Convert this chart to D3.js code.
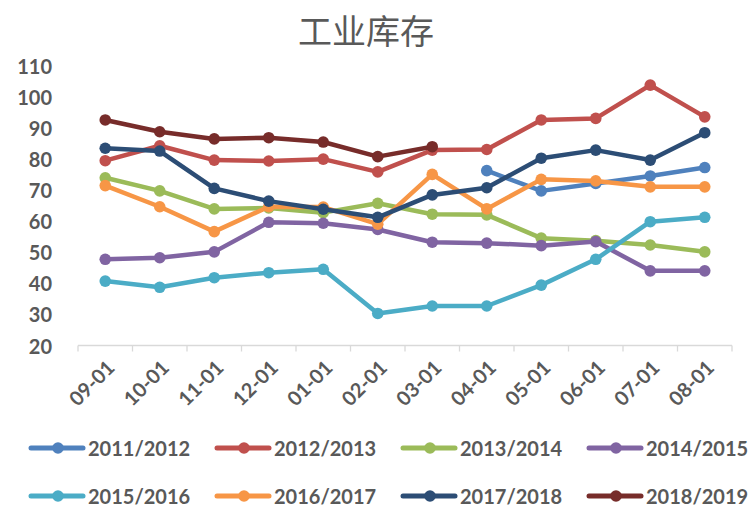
<!DOCTYPE html>
<html>
<head>
<meta charset="utf-8">
<script src="https://cdn.jsdelivr.net/npm/d3@7/dist/d3.min.js"></script>
<style>
  html, body { margin: 0; padding: 0; background: #fff; }
  svg text { font-family: Lato, "Noto Sans", sans-serif; fill: #595959; }
</style>
</head>
<body>
<div id="chart"></div>
<script>
// categories (month-day)
const months = ['09-01', '10-01', '11-01', '12-01', '01-01', '02-01', '03-01', '04-01', '05-01', '06-01', '07-01', '08-01'];
const yTicks = [20, 30, 40, 50, 60, 70, 80, 90, 100, 110];

const seasonNames = ['2011/2012', '2012/2013', '2013/2014', '2014/2015', '2015/2016', '2016/2017', '2017/2018', '2018/2019'];
const seasonColors = ['#4F81BD', '#C0504D', '#9BBB59', '#8064A2', '#4BACC6', '#F79646', '#2C4D75', '#772C2A'];

const s2011 = [null, null, null, null, null, null, null, 76.2, 69.7, 72.1, 74.5, 77.2];
const s2012 = [79.4, 84.2, 79.6, 79.3, 79.9, 75.8, 82.8, 83.0, 92.5, 93.0, 103.7, 93.5];
const s2013 = [73.9, 69.7, 63.9, 64.2, 62.7, 65.7, 62.2, 62.0, 54.5, 53.7, 52.3, 50.1];
const s2014 = [47.7, 48.2, 50.1, 59.6, 59.3, 57.3, 53.2, 52.9, 52.1, 53.4, 44.0, 44.0];
const s2015 = [40.7, 38.7, 41.8, 43.4, 44.5, 30.3, 32.7, 32.7, 39.4, 47.7, 59.8, 61.2];
const s2016 = [71.4, 64.6, 56.6, 64.6, 64.5, 59.0, 75.0, 63.9, 73.4, 72.9, 71.0, 71.0];
const s2017 = [83.4, 82.5, 70.5, 66.4, 63.8, 61.2, 68.4, 70.7, 80.2, 82.8, 79.6, 88.4];
const s2018 = [92.5, 88.7, 86.4, 86.8, 85.4, 80.7, 83.9, null, null, null, null, null];

const seriesValues = [s2011, s2012, s2013, s2014, s2015, s2016, s2017, s2018];

const width = 756, height = 509;
const plot = { left: 78, right: 732, top: 65.5, bottom: 345.5 };

const svg = d3.select('#chart').append('svg')
  .attr('width', width)
  .attr('height', height);

const x = d3.scaleBand().domain(months).range([plot.left, plot.right]);
const y = d3.scaleLinear().domain([20, 110]).range([plot.bottom, plot.top]);

// title
svg.append('text')
  .attr('x', 366)
  .attr('y', 29)
  .attr('text-anchor', 'middle')
  .attr('dominant-baseline', 'central')
  .style('font-family', '"Noto Sans CJK SC", sans-serif')
  .style('font-size', '34px')
  .text('工业库存');

// y labels (no axis line)
svg.append('g').selectAll('text')
  .data(yTicks)
  .join('text')
  .attr('x', 52)
  .attr('y', d => y(d))
  .attr('text-anchor', 'end')
  .attr('dominant-baseline', 'central')
  .style('font-size', '20px')
  .style('font-weight', 'bold')
  .text(d => d);

// x axis line + boundary ticks
const xAxis = svg.append('g');
xAxis.append('line')
  .attr('x1', plot.left).attr('x2', plot.right)
  .attr('y1', plot.bottom).attr('y2', plot.bottom)
  .attr('stroke', '#d9d9d9').attr('stroke-width', 1.3);
const bounds = months.map(m => x(m)).concat([plot.right]);
xAxis.selectAll('.tick')
  .data(bounds)
  .join('line')
  .attr('x1', d => d).attr('x2', d => d)
  .attr('y1', plot.bottom).attr('y2', plot.bottom + 6)
  .attr('stroke', '#d9d9d9').attr('stroke-width', 1.3);

xAxis.selectAll('text')
  .data(months)
  .join('text')
  .attr('transform', d => `translate(${x(d) + x.bandwidth() / 2 + 5},${plot.bottom + 18}) rotate(-45)`)
  .attr('text-anchor', 'end')
  .attr('dominant-baseline', 'central')
  .style('font-size', '20px')
  .style('font-weight', 'bold')
  .text(d => d);

// lines
const cx = (d, i) => x(months[i]) + x.bandwidth() / 2;
const line = d3.line()
  .defined(d => d != null)
  .x(cx)
  .y(d => y(d));

seriesValues.forEach((vals, k) => {
  const g = svg.append('g');
  g.append('path')
    .datum(vals)
    .attr('d', line)
    .attr('fill', 'none')
    .attr('stroke', seasonColors[k])
    .attr('stroke-width', 4.5)
    .attr('stroke-linejoin', 'round');
  g.selectAll('circle')
    .data(vals.map((v, i) => ({ v, i })).filter(d => d.v != null))
    .join('circle')
    .attr('cx', d => cx(d.v, d.i))
    .attr('cy', d => y(d.v))
    .attr('r', 5.8)
    .attr('fill', seasonColors[k]);
});

// legend
const legend = svg.append('g');
seasonNames.forEach((name, k) => {
  const lx = 31 + (k % 4) * 186;
  const ly = k < 4 ? 448 : 496;
  const item = legend.append('g').attr('transform', `translate(${lx},${ly})`);
  item.append('line')
    .attr('x1', 0).attr('x2', 52)
    .attr('stroke', seasonColors[k])
    .attr('stroke-width', 5)
    .attr('stroke-linecap', 'round');
  item.append('circle')
    .attr('cx', 27).attr('r', 5.8)
    .attr('fill', seasonColors[k]);
  item.append('text')
    .attr('x', 57)
    .attr('dominant-baseline', 'central')
    .style('font-size', '20px')
    .style('font-weight', 'bold')
    .text(name);
});
</script>
</body>
</html>
